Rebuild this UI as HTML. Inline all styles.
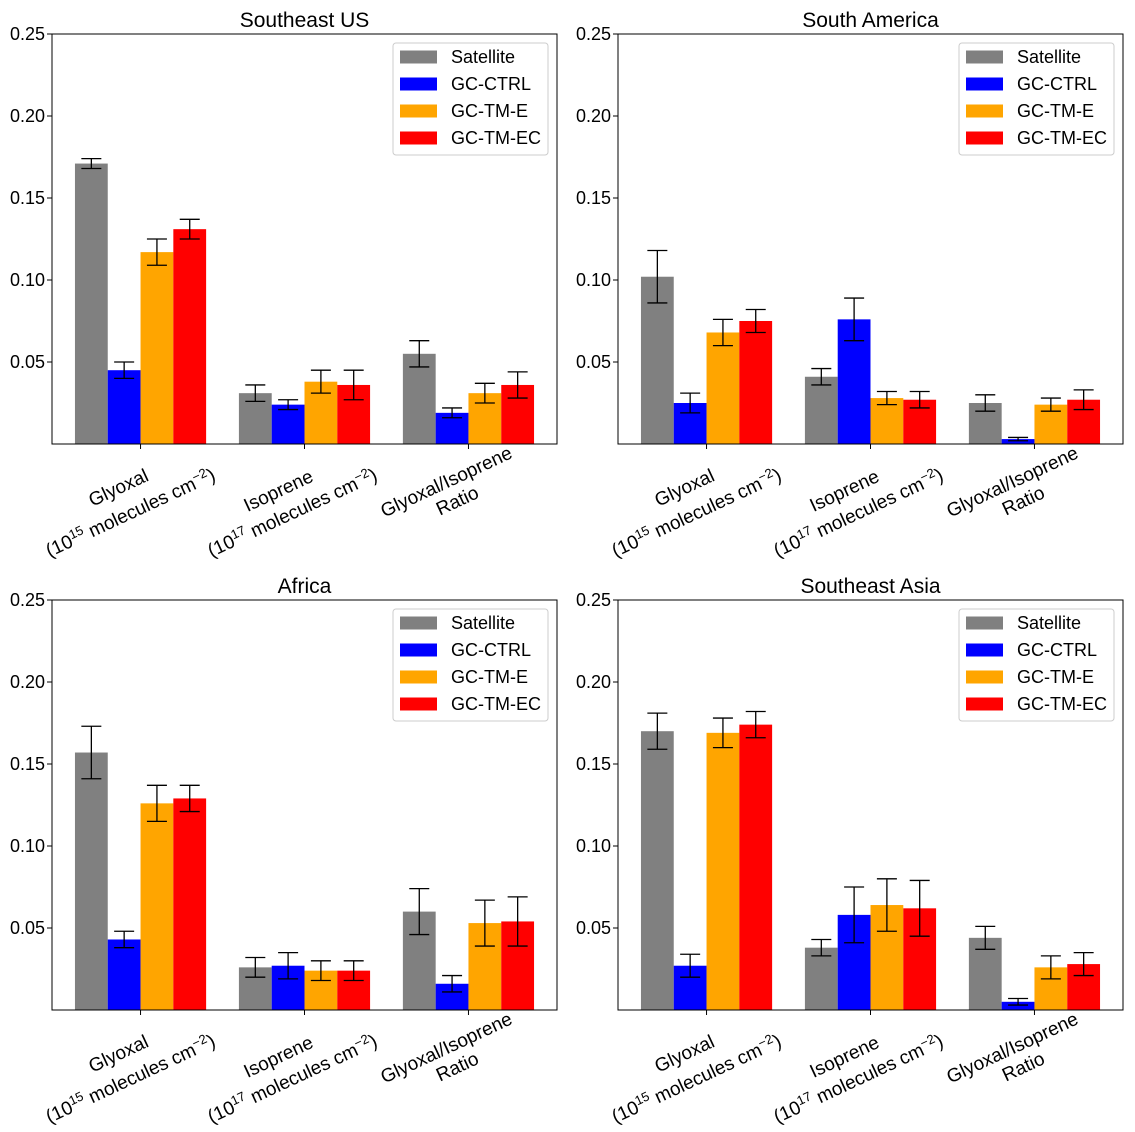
<!DOCTYPE html>
<html><head><meta charset="utf-8">
<style>
html,body{margin:0;padding:0;background:#fff;}
svg{display:block;font-family:"Liberation Sans",Arial,sans-serif;}
</style></head>
<body>
<svg id="chart" width="1135" height="1132" viewBox="0 0 1135 1132" xmlns="http://www.w3.org/2000/svg"></svg>
<script>
const regions = ["Southeast US","South America","Africa","Southeast Asia"];
const seriesNames = ["Satellite","GC-CTRL","GC-TM-E","GC-TM-EC"];
const seriesColors = ["#808080","#0000ff","#ffa500","#ff0000"];
const yTicks = [0.05,0.10,0.15,0.20,0.25];
const yTickLabels = ["0.05","0.10","0.15","0.20","0.25"];
const seUSValues = [[0.171,0.045,0.117,0.131],[0.031,0.024,0.038,0.036],[0.055,0.019,0.031,0.036]];
const seUSErrors = [[0.003,0.005,0.008,0.006],[0.005,0.003,0.007,0.009],[0.008,0.003,0.006,0.008]];
const saValues = [[0.102,0.025,0.068,0.075],[0.041,0.076,0.028,0.027],[0.025,0.003,0.024,0.027]];
const saErrors = [[0.016,0.006,0.008,0.007],[0.005,0.013,0.004,0.005],[0.005,0.001,0.004,0.006]];
const afValues = [[0.157,0.043,0.126,0.129],[0.026,0.027,0.024,0.024],[0.060,0.016,0.053,0.054]];
const afErrors = [[0.016,0.005,0.011,0.008],[0.006,0.008,0.006,0.006],[0.014,0.005,0.014,0.015]];
const seaValues = [[0.170,0.027,0.169,0.174],[0.038,0.058,0.064,0.062],[0.044,0.005,0.026,0.028]];
const seaErrors = [[0.011,0.007,0.009,0.008],[0.005,0.017,0.016,0.017],[0.007,0.002,0.007,0.007]];

const allValues=[seUSValues,saValues,afValues,seaValues];
const allErrors=[seUSErrors,saErrors,afErrors,seaErrors];
const NS="http://www.w3.org/2000/svg";
const svg=document.getElementById('chart');
function mk(tag,attrs,parent){const e=document.createElementNS(NS,tag);for(const k in attrs)e.setAttribute(k,attrs[k]);(parent||svg).appendChild(e);return e;}

const panels=[{x:52,y:34},{x:618,y:34},{x:52,y:600},{x:618,y:600}];
const W=505,H=410;
const slug=["southeast-us","south-america","africa","southeast-asia"];
panels.forEach((p,pi)=>{
  const g=mk('g',{});
  
  
  const yS=v=>p.y+H-(v/0.25)*H;
  const xS=u=>p.x+(u+0.54)/3.08*W;
  allValues[pi].forEach((cat,ci)=>{
    cat.forEach((v,si)=>{
      const x0=xS(ci-0.4+si*0.2), x1=xS(ci-0.2+si*0.2);
      const r=mk('rect',{x:x0,y:yS(v),width:x1-x0,height:yS(0)-yS(v),fill:seriesColors[si]},g);
      
      
    });
  });
  allValues[pi].forEach((cat,ci)=>{
    cat.forEach((v,si)=>{
      const e=allErrors[pi][ci][si];
      const cx=xS(ci-0.3+si*0.2);
      const eg=mk('g',{stroke:'#000','stroke-width':1.3},g);
      
      
      mk('line',{x1:cx,x2:cx,y1:yS(v-e),y2:yS(v+e)},eg);
      mk('line',{x1:cx-10,x2:cx+10,y1:yS(v-e),y2:yS(v-e)},eg);
      mk('line',{x1:cx-10,x2:cx+10,y1:yS(v+e),y2:yS(v+e)},eg);
    });
  });
  const f=mk('rect',{x:p.x,y:p.y,width:W,height:H,fill:'none',stroke:'#000','stroke-width':1},g);
  
  
  yTicks.forEach((t,ti)=>{
    const yy=yS(t);
    mk('line',{x1:p.x-5,x2:p.x,y1:yy,y2:yy,stroke:'#000'},g);
    const tx=mk('text',{x:p.x-7,y:yy+6,'text-anchor':'end','font-size':18},g);
    tx.textContent=yTickLabels[ti];
    
    
  });
  const labelDefs=[
    [{t:'Glyoxal',dx:-22,dy:44},{t:'(10|15| molecules cm|−2|)',dx:-10,dy:69}],
    [{t:'Isoprene',dx:-26,dy:47},{t:'(10|17| molecules cm|−2|)',dx:-12,dy:69}],
    [{t:'Glyoxal/Isoprene',dx:-22,dy:38},{t:'Ratio',dx:-11,dy:57}]
  ];
  [0,1,2].forEach(ci=>{
    const tx=xS(ci);
    mk('line',{x1:tx,x2:tx,y1:p.y+H,y2:p.y+H+5,stroke:'#000'},g);
    labelDefs[ci].forEach(l=>{
      const cx=tx+l.dx, cy=p.y+H+l.dy;
      const t=mk('text',{x:cx,y:cy+6,'text-anchor':'middle','font-size':19,transform:`rotate(-25 ${cx} ${cy})`},g);
      
      
      const parts=l.t.split('|');
      parts.forEach((s,k)=>{
        const ts=mk('tspan',{},t);
        if(k%2===1){ts.setAttribute('font-size',13);ts.setAttribute('dy',-7);}
        else if(k>0){ts.setAttribute('dy',7);}
        ts.textContent=s;
      });
    });
  });
  const ti=mk('text',{x:p.x+W/2,y:p.y-7,'text-anchor':'middle','font-size':21},g);
  ti.textContent=regions[pi];
  
  
  const lg=mk('g',{},g);
  
  
  mk('rect',{x:p.x+341,y:p.y+9,width:155,height:112,rx:3,fill:'#fff',stroke:'#ccc'},lg);
  seriesNames.forEach((n,si)=>{
    const ey=p.y+23+si*27;
    const le=mk('g',{},lg);
    
    
    mk('rect',{x:p.x+348,y:ey-6.5,width:37,height:13,fill:seriesColors[si]},le);
    const t=mk('text',{x:p.x+399,y:ey+6,'font-size':18},le);
    t.textContent=n;
  });
});
</script>
</body></html>
